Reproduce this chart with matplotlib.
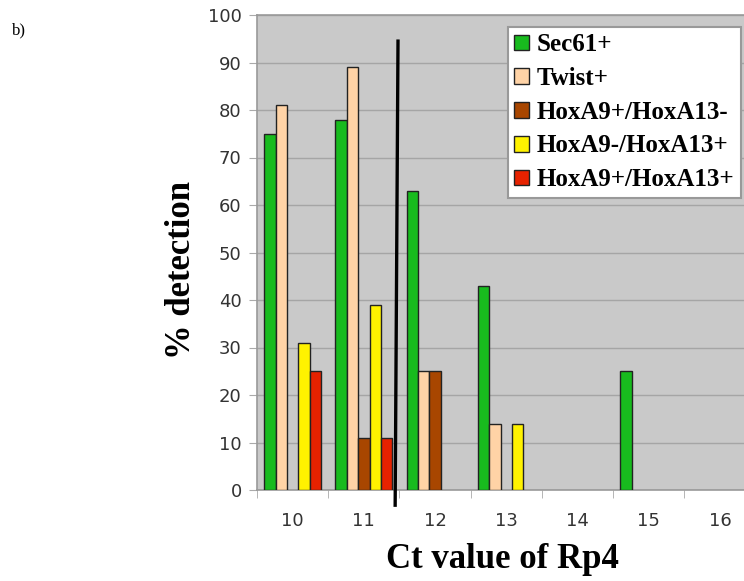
import numpy as np
import matplotlib
matplotlib.use("Agg")
import matplotlib.pyplot as plt

categories = ["10", "11", "12", "13", "14", "15", "16"]
series_names = ["Sec61+", "Twist+", "HoxA9+/HoxA13-", "HoxA9-/HoxA13+", "HoxA9+/HoxA13+"]
sec61 = [75, 78, 63, 43, 0, 25, 0]
twist = [81, 89, 25, 14, 0, 0, 0]
hoxa9p_a13m = [0, 11, 25, 0, 0, 0, 0]
hoxa9m_a13p = [31, 39, 0, 14, 0, 0, 0]
hoxa9p_a13p = [25, 11, 0, 0, 0, 0, 0]
colors = ["#18bb1e", "#ffd3a6", "#a84600", "#fff200", "#e62200"]

W, H = 744, 581
fig = plt.figure(figsize=(W / 100, H / 100), dpi=100)
ax = fig.add_axes([257 / W, 91 / H, 498.5 / W, 475 / H])
ax.set_facecolor("#c9c9c9")

x = np.arange(len(categories))
bw = 0.16
all_series = [sec61, twist, hoxa9p_a13m, hoxa9m_a13p, hoxa9p_a13p]
for k, (vals, name, c) in enumerate(zip(all_series, series_names, colors)):
    v = np.array(vals, dtype=float)
    v[v == 0] = np.nan  # empty cells: no bar drawn
    ax.bar(x + (k - 2) * bw, v, bw, color=c, edgecolor="#222222",
           linewidth=1.0, label=name, zorder=3)

ax.set_xlim(-0.5, 6.5)
ax.set_ylim(0, 100)
ax.set_yticks(range(0, 101, 10))
ax.yaxis.grid(True, color="#a5a5a5", linewidth=1.0, zorder=0)
ax.set_axisbelow(True)

ax.set_xticks(x)
ax.set_xticklabels(categories)
ax.set_xticks(np.arange(-0.5, 7, 1), minor=True)
ax.tick_params(axis="x", which="major", length=0, pad=16, labelsize=13, labelcolor="#333333")
ax.tick_params(axis="x", which="minor", length=6, color="#aaaaaa", direction="out")
ax.tick_params(axis="y", length=6, color="#aaaaaa", labelsize=13, labelcolor="#333333", pad=5)
for s in ax.spines.values():
    s.set_color("#999999")
    s.set_linewidth(1.2)

# threshold line between 11 and 12
ax.plot([1.48, 1.44], [94.5, -3.2], color="black", linewidth=2.4, clip_on=False, zorder=5)

fig.text(181 / W, 1 - 270 / H, "% detection", rotation=90, ha="center", va="center",
         family="Liberation Serif", fontweight="bold", fontsize=25)
fig.text(502 / W, 1 - 560 / H, "Ct value of Rp4", ha="center", va="center",
         family="Liberation Serif", fontweight="bold", fontsize=25)
fig.text(12 / W, 1 - 30 / H, "b)", ha="left", va="center",
         family="Liberation Serif", fontsize=12)

leg = ax.legend(loc="upper left", bbox_to_anchor=(508 / W, 1 - 27 / H),
                bbox_transform=fig.transFigure, prop={"family": "Liberation Serif",
                "weight": "bold", "size": 18}, frameon=True, fancybox=False,
                edgecolor="#999999", facecolor="white", framealpha=1,
                handlelength=0.6, handleheight=0.6, handletextpad=0.3,
                labelspacing=0.43, borderpad=0.25, borderaxespad=0)
leg.get_frame().set_linewidth(1.5)

fig.savefig("out.png", dpi=100)
